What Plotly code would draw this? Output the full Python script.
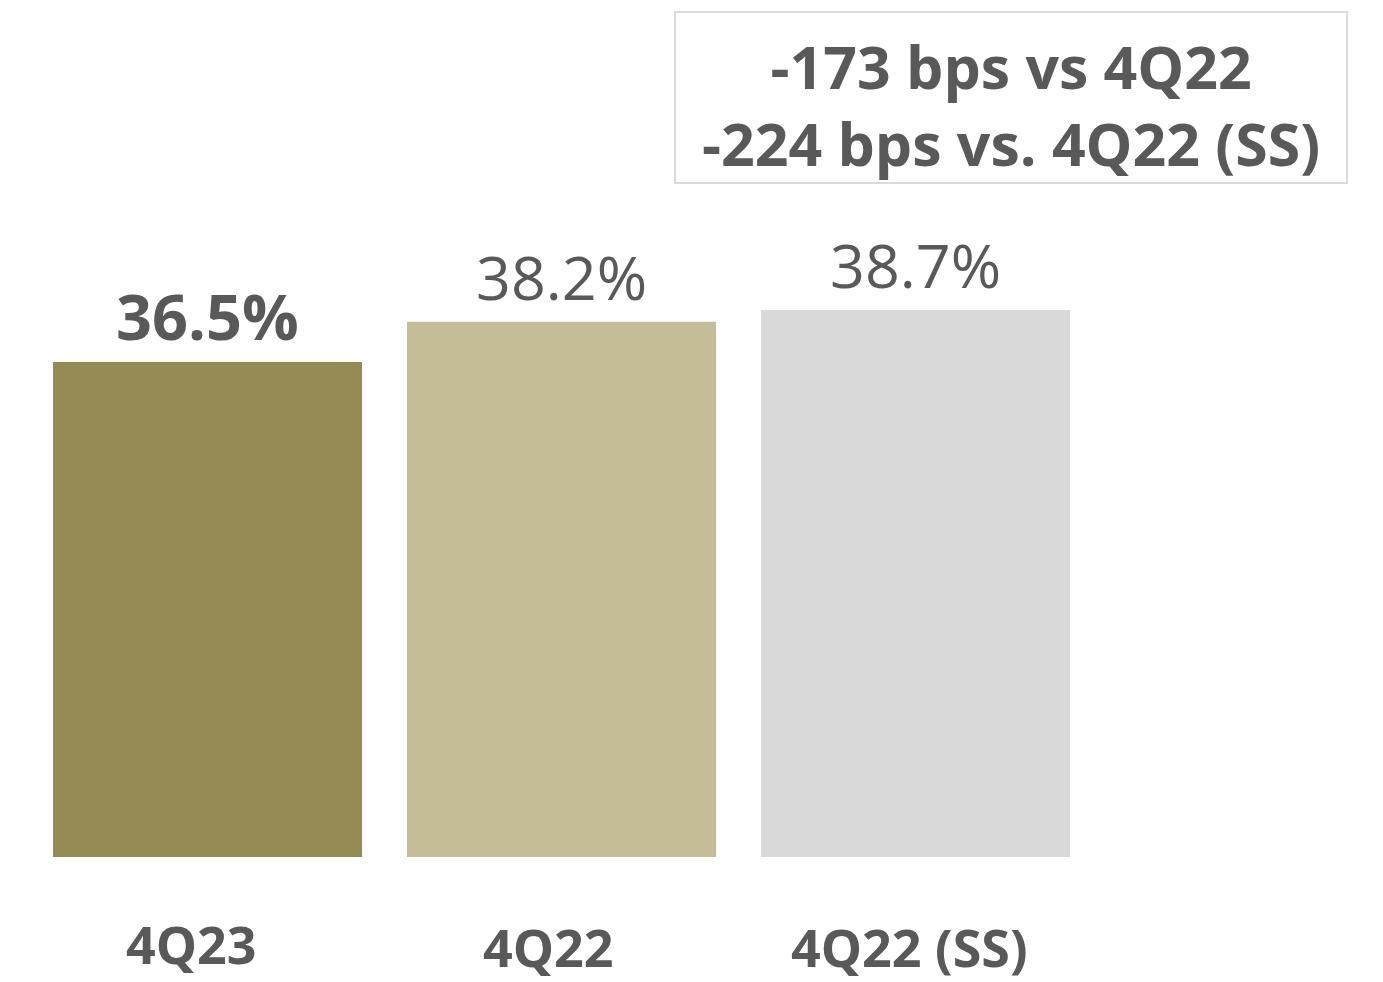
import plotly.graph_objects as go

# Margin data
categories = ["4Q23", "4Q22", "4Q22 (SS)"]
margins = [36.5, 38.2, 38.7]
bar_colors = ["#948A54", "#C4BD97", "#D9D9D9"]
label_bold = [True, False, False]
callout_lines = ["-173 bps vs 4Q22", "-224 bps vs. 4Q22 (SS)"]

W, H = 1383, 982
TEXT = "#595959"
FONT = "Open Sans"

fig = go.Figure(
    go.Bar(
        x=categories,
        y=margins,
        marker=dict(color=bar_colors, line=dict(width=0)),
        width=0.873,
        hoverinfo="skip",
    )
)

annotations = []
# value labels above each bar
for cat, val, bold in zip(categories, margins, label_bold):
    txt = f"{val:.1f}%"
    if bold:
        txt = f"<b>{txt}</b>"
    annotations.append(dict(
        x=cat, y=val, xref="x", yref="y", text=txt, showarrow=False,
        yanchor="bottom", yshift=2,
        font=dict(family=FONT, size=63 if bold else 61, color=TEXT),
    ))

# category labels under the axis, slightly staggered text boxes
cat_y = [943, 946, 946]
cat_dx = [-16, -13, -6]
for cat, py, dx in zip(categories, cat_y, cat_dx):
    annotations.append(dict(
        x=cat, y=1 - py / H, xref="x", yref="paper", text=f"<b>{cat}</b>",
        showarrow=False, yanchor="middle", xshift=dx,
        font=dict(family=FONT, size=52, color=TEXT),
    ))

# call-out box text (two lines in one block)
annotations.append(dict(
    x=(675 + 1347) / 2 / W, y=1 - 104 / H, xref="paper", yref="paper",
    text="<b>" + "<br>".join(callout_lines) + "</b>", showarrow=False,
    xanchor="center", yanchor="middle", align="center",
    font=dict(family=FONT, size=59, color=TEXT),
))

fig.update_layout(
    width=W, height=H,
    margin=dict(l=0, r=0, t=0, b=0),
    paper_bgcolor="white", plot_bgcolor="white",
    showlegend=False,
    bargap=0.127,
    xaxis=dict(domain=[30.5 / W, 1092.5 / W], range=[-0.5, 2.5],
               showticklabels=False, showgrid=False, zeroline=False,
               showline=False, ticks=""),
    yaxis=dict(domain=[125 / H, 1], range=[15.56, 51.81],
               showticklabels=False, showgrid=False, zeroline=False,
               showline=False, ticks=""),
    annotations=annotations,
    shapes=[dict(type="rect", xref="paper", yref="paper",
                 x0=675 / W, x1=1347 / W, y0=1 - 183 / H, y1=1 - 12 / H,
                 line=dict(color="#D9D9D9", width=2), fillcolor="rgba(0,0,0,0)")],
)

fig.write_html("out.html")
